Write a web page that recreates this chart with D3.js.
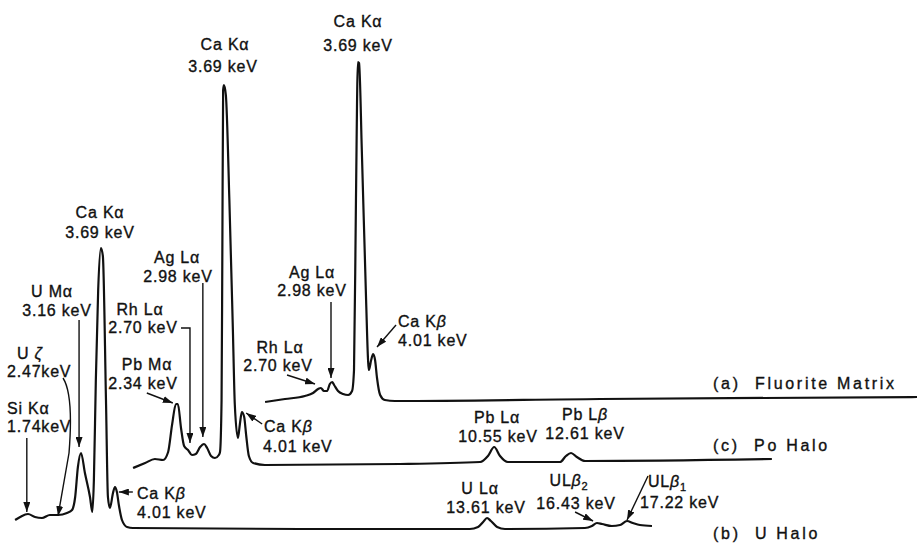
<!DOCTYPE html>
<html>
<head>
<meta charset="utf-8">
<script src="https://cdn.jsdelivr.net/npm/d3@7"></script>
<style>
  body { margin: 0; background: #fff; }
  text { font-family: "Liberation Sans", Arial, sans-serif; fill: #111; }
</style>
</head>
<body>
<svg id="chart" width="917" height="544"></svg>
<script>
// spectra: energy (keV) and counts (arbitrary units, 0 = trace baseline)
var fluoriteKeV = [1.31, 1.82, 2.33, 2.54, 2.67, 2.74, 2.82, 2.90, 2.97, 3.03, 3.08, 3.18, 3.31, 3.44, 3.54,
    3.59, 3.64, 3.69, 3.72, 3.79, 3.90, 3.95, 3.97, 4.03, 4.08, 4.13, 4.18, 4.26, 4.38, 4.64, 9.90, 18.03];
var fluoriteCounts = [-1, 2, 5, 8, 12, 13, 10, 10, 17, 19, 16, 10, 7, 6, 10,
    31, 201, 339, 338, 251, 101, 41, 31, 41, 47, 41, 23, 6, 1, 0, 2, 4];

var poKeV = [1.36, 1.67, 1.92, 2.13, 2.26, 2.36, 2.46, 2.51, 2.59, 2.67, 2.77, 2.87, 2.97, 3.08, 3.18, 3.26,
    3.36, 3.46, 3.56, 3.59, 3.63, 3.65, 3.67, 3.69, 3.74, 3.83, 3.92, 3.97, 4.05, 4.10, 4.15, 4.21, 4.26,
    4.33, 4.44, 4.74, 8.21, 10.26, 10.46, 10.62, 10.77, 10.97, 12.31, 12.46, 12.59, 12.74, 12.95, 17.74];
var poCounts = [-3, 2, 6, 5, 13, 40, 61, 61, 37, 19, 15, 10, 11, 18, 21, 17,
    9, 7, 10, 13, 65, 215, 375, 380, 370, 265, 135, 60, 27, 41, 53, 48, 30,
    9, 2, 0, 1, 3, 9, 18, 9, 3, 3, 9, 12, 8, 4, 6];

var uKeV = [1.49, 1.62, 1.82, 2.00, 2.18, 2.38, 2.59, 2.82, 2.95, 3.03, 3.10, 3.18, 3.28, 3.41, 3.47, 3.51,
    3.56, 3.62, 3.69, 3.74, 3.82, 3.87, 3.92, 4.00, 4.05, 4.10, 4.15, 4.23, 4.36, 4.51, 8.79, 13.15, 13.36,
    13.49, 13.59, 13.69, 13.85, 14.05, 16.10, 16.28, 16.41, 16.54, 16.79, 17.00, 17.18, 17.33, 17.51, 17.82];
var uCounts = [9, 12, 15, 12, 11, 14, 14, 16, 19, 32, 62, 76, 56, 32, 17, 49,
    149, 239, 281, 273, 129, 32, 21, 36, 42, 37, 24, 9, 2, 1, 0, 0, 2,
    7, 11, 8, 2, 0, 1, 3, 6, 5, 3, 4, 8, 6, 4, 3];

var traceNames = ["(a)  Fluorite Matrix", "(c)  Po Halo", "(b)  U Halo"];

// peak labels: trace index, line name, energy text
var peakTrace = [0, 0, 0, 0, 1, 1, 1, 1, 1, 1, 1, 2, 2, 2, 2, 2, 2, 2, 2];
var peakNames = ["Ca Kα", "Ag Lα", "Rh Lα", "Ca Kβ", "Ca Kα", "Ag Lα", "Rh Lα", "Pb Mα", "Ca Kβ", "Pb Lα", "Pb Lβ",
    "Ca Kα", "U Mα", "U ζ", "Si Kα", "Ca Kβ", "U Lα", "ULβ_2", "ULβ_1"];
var peakEnergies = ["3.69 keV", "2.98 keV", "2.70 keV", "4.01 keV", "3.69 keV", "2.98 keV", "2.70 keV", "2.34 keV",
    "4.01 keV", "10.55 keV", "12.61 keV", "3.69 keV", "3.16 keV", "2.47keV", "1.74keV", "4.01 keV", "13.61 keV",
    "16.43 keV", "17.22 keV"];
// arrow tips on the traces (keV, counts); null = label without arrow
var tipKeV = [null, 3.00, 2.59, 4.18, null, 3.15, 2.82, 2.38, 4.26, null, null, null, 3.13, 2.59, 1.79, 4.15, null, 16.31, 17.18];
var tipCounts = [null, 23, 17, 54, null, 28, 22, 62, 52, null, null, null, 82, 13, 17, 37, null, 8, 9];

// layout
var traceOffset = [[214, 401], [80, 465], [-43, 529]];
var traceEnd = [[713, 383], [713, 445], [713, 533]];
// label layout: [x1, y1, x2, y2, anchor]
var labelPos = [
    [358, 21, 358, 45, "middle"],
    [312, 272, 312, 290, "middle"],
    [280, 347, 278, 365, "middle"],
    [398, 321, 398, 340, "start"],
    [225, 44, 223, 66, "middle"],
    [177, 257, 178, 276, "middle"],
    [140, 309, 143, 327, "middle"],
    [147, 364, 143, 383, "middle"],
    [264, 426, 263, 446, "start"],
    [497, 417, 498, 436, "middle"],
    [585, 414, 585, 433, "middle"],
    [100, 212, 100, 232, "middle"],
    [52, 291, 57, 310, "middle"],
    [17, 353, 7, 371, "start"],
    [7, 408, 7, 426, "start"],
    [137, 493, 137, 512, "start"],
    [480, 488, 486, 507, "middle"],
    [569, 480, 576, 503, "middle"],
    [648, 481, 640, 502, "start"]
];
// arrow start relative to tip
var arrowFrom = [null, [0, -76], [-28, -9], [19, -22], null, [0, -154], [-9, -115], [-26, -10], [16, 11],
    null, null, null, [0, -127], [5, -138], [0, -74], [14, 0], null, [-18, -9], [21, -44]];

var x = d3.scaleLinear().domain([0, 20]).range([0, 780]);
var y = d3.scaleLinear().domain([0, 400]).range([0, -400]);

var svg = d3.select("#chart");

svg.append("defs").append("marker")
    .attr("id", "head")
    .attr("markerUnits", "userSpaceOnUse")
    .attr("viewBox", "0 0 10 7")
    .attr("refX", 10).attr("refY", 3.5)
    .attr("markerWidth", 10).attr("markerHeight", 7)
    .attr("orient", "auto")
    .append("path").attr("d", "M0,0 L10,3.5 L0,7 z").attr("fill", "#111");

var spectra = [
    d3.zip(fluoriteKeV, fluoriteCounts),
    d3.zip(poKeV, poCounts),
    d3.zip(uKeV, uCounts)
];

var line = d3.line()
    .x(function(d) { return x(d[0]); })
    .y(function(d) { return y(d[1]); })
    .curve(d3.curveMonotoneX);

var trace = svg.selectAll("g.trace").data(spectra) //one group per spectrum
    .enter().append("g")
    .attr("class", "trace")
    .attr("transform", function(d, i) {
        return "translate(" + traceOffset[i][0] + "," + traceOffset[i][1] + ")";
    });

trace.append("path")
    .attr("d", line)
    .attr("fill", "none")
    .attr("stroke", "#111")
    .attr("stroke-width", 2.2)
    .attr("stroke-linejoin", "round");

svg.selectAll("text.trace-name").data(traceNames)
    .enter().append("text")
    .attr("class", "trace-name")
    .attr("x", function(d, i) { return traceEnd[i][0]; })
    .attr("y", function(d, i) { return traceEnd[i][1]; })
    .attr("dy", "0.36em")
    .style("white-space", "pre")
    .style("font-size", "16px")
    .style("letter-spacing", "2.7px")
    .style("stroke", "#111").style("stroke-width", 0.35)
    .text(function(d) { return d; });

function tipPoint(i) {
    var t = peakTrace[i];
    return [traceOffset[t][0] + x(tipKeV[i]), traceOffset[t][1] + y(tipCounts[i])];
}

// arrows
peakNames.forEach(function(name, i) {
    if (tipKeV[i] === null) return;
    var tip = tipPoint(i), f = arrowFrom[i], d;
    if (name === "Rh Lα" && peakTrace[i] === 1) {
        d = "M" + (tip[0] + f[0]) + "," + (tip[1] + f[1]) + " L" + tip[0] + "," + (tip[1] + f[1]) +
            " L" + tip[0] + "," + tip[1];
    } else if (name === "U ζ") {
        var sx = tip[0] + f[0], sy = tip[1] + f[1];
        d = "M" + sx + "," + sy + " C" + (sx + 9) + "," + (sy + 14) + " " + (sx + 8) + "," + (sy + 50) +
            " " + (sx + 6) + "," + (sy + 75) + " L" + tip[0] + "," + tip[1];
    } else {
        d = "M" + (tip[0] + f[0]) + "," + (tip[1] + f[1]) + " L" + tip[0] + "," + tip[1];
    }
    svg.append("path")
        .attr("d", d)
        .attr("fill", "none")
        .attr("stroke", "#111")
        .attr("stroke-width", 1.4)
        .attr("marker-end", "url(#head)");
});

// labels
function addName(sel, name) {
    var parts = name.split("_");
    var base = parts[0];
    var greekIdx = base.search(/[αβζ]/);
    if (greekIdx >= 0) {
        sel.append("tspan").text(base.slice(0, greekIdx));
        var g = sel.append("tspan").text(base.charAt(greekIdx));
        if (base.charAt(greekIdx) !== "α") g.style("font-style", "italic");
    } else {
        sel.append("tspan").text(base);
    }
    if (parts[1]) {
        sel.append("tspan").attr("dy", 4).style("font-size", "11px").text(parts[1]);
    }
}

peakNames.forEach(function(name, i) {
    var p = labelPos[i];
    var t1 = svg.append("text")
        .attr("x", p[0]).attr("y", p[1])
        .attr("dy", "0.36em")
        .attr("text-anchor", p[4])
        .style("font-size", "16px")
        .style("letter-spacing", "0.8px")
        .style("stroke", "#111").style("stroke-width", 0.35);
    addName(t1, name);
    svg.append("text")
        .attr("x", p[2]).attr("y", p[3])
        .attr("dy", "0.36em")
        .attr("text-anchor", p[4])
        .style("font-size", "16px")
        .style("letter-spacing", "0.8px")
        .style("stroke", "#111").style("stroke-width", 0.35)
        .text(peakEnergies[i]);
});
</script>
</body>
</html>
